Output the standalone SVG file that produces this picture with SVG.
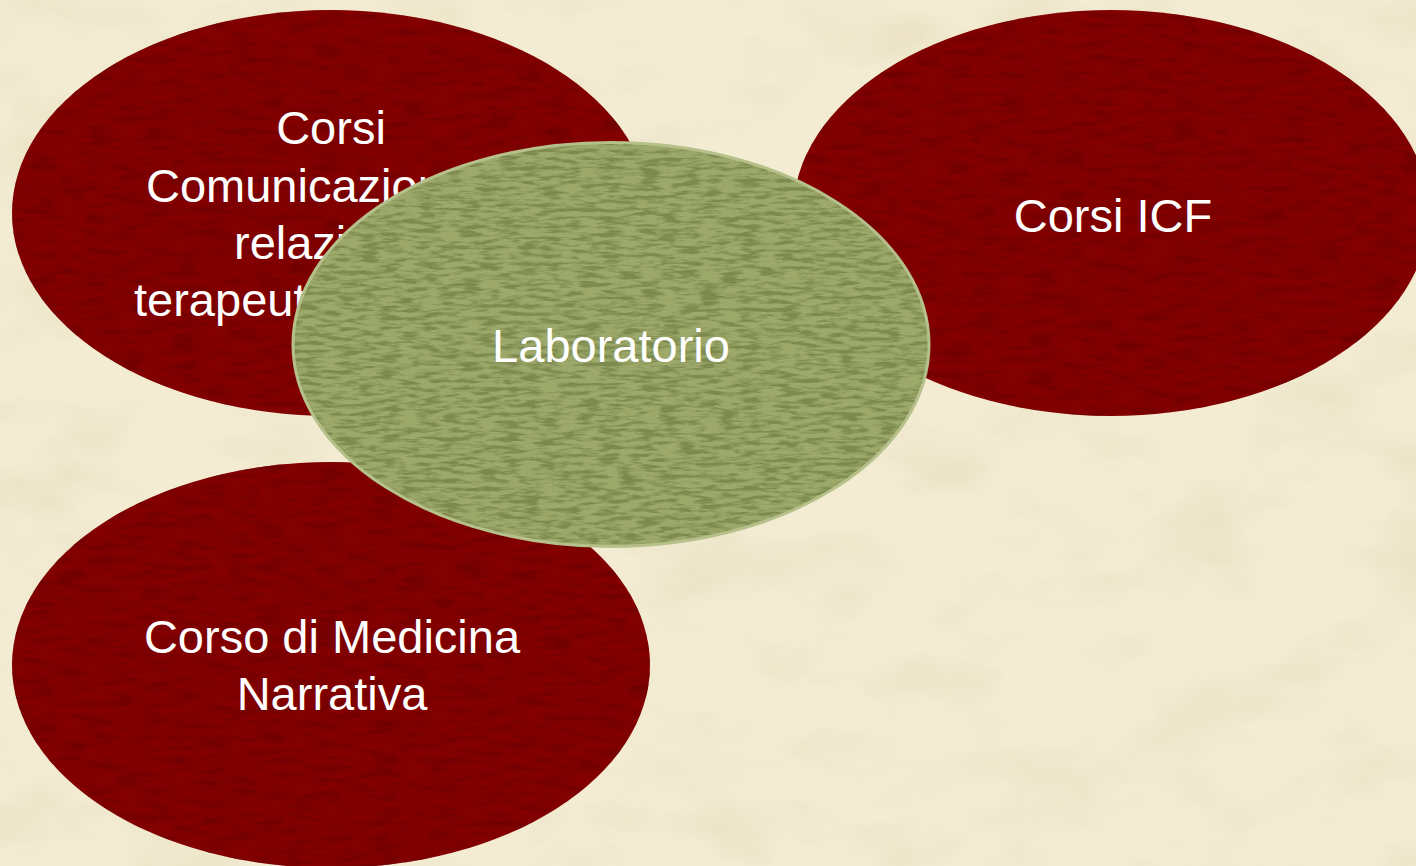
<svg xmlns="http://www.w3.org/2000/svg" width="1416" height="866" viewBox="0 0 1416 866">
  <defs>
    <filter id="bgTex" x="0" y="0" width="1416" height="866" filterUnits="userSpaceOnUse" color-interpolation-filters="sRGB">
      <feTurbulence type="fractalNoise" baseFrequency="0.008 0.015" numOctaves="4" seed="7" result="n"/>
      <feColorMatrix in="n" type="matrix" values="0 0 0 0 0.88  0 0 0 0 0.83  0 0 0 0 0.68  0.9 0 0 0 -0.42" result="m"/>
      <feComposite in="m" in2="SourceAlpha" operator="in" result="m2"/>
      <feMerge><feMergeNode in="SourceGraphic"/><feMergeNode in="m2"/></feMerge>
    </filter>
    <filter id="redTex" x="-2%" y="-2%" width="104%" height="104%" color-interpolation-filters="sRGB">
      <feTurbulence type="fractalNoise" baseFrequency="0.035 0.14" numOctaves="3" seed="4" result="n"/>
      <feColorMatrix in="n" type="matrix" values="0 0 0 0 0.44  0 0 0 0 0  0 0 0 0 0  2.6 0 0 0 -1.1" result="m"/>
      <feComposite in="m" in2="SourceAlpha" operator="in" result="m2"/>
      <feMerge><feMergeNode in="SourceGraphic"/><feMergeNode in="m2"/></feMerge>
    </filter>
    <filter id="greenTex" x="-2%" y="-2%" width="104%" height="104%" color-interpolation-filters="sRGB">
      <feTurbulence type="fractalNoise" baseFrequency="0.05 0.24" numOctaves="3" seed="11" result="n"/>
      <feColorMatrix in="n" type="matrix" values="0 0 0 0 0.49  0 0 0 0 0.54  0 0 0 0 0.31  4 0 0 0 -1.7" result="m"/>
      <feComposite in="m" in2="SourceAlpha" operator="in" result="m2"/>
      <feMerge><feMergeNode in="SourceGraphic"/><feMergeNode in="m2"/></feMerge>
    </filter>
  </defs>
  <style>
    .red { fill: #830000; filter: url(#redTex); }
    .green { fill: #9da96a; filter: url(#greenTex); }
    .greenEdge { fill: none; stroke: #b6c08a; stroke-width: 3; }
    .lbl { font-family: "Liberation Sans", Arial, sans-serif; font-size: 47px; fill: #ffffff; }
    .mid { text-anchor: middle; }
  </style>
  <rect x="0" y="0" width="1416" height="866" fill="#f3ecd3" filter="url(#bgTex)"/>
  <g id="connectors"/>
  <g id="node-comunicazione">
    <ellipse class="red" cx="331" cy="213" rx="319" ry="203"/>
    <text class="lbl mid" x="331" y="144">Corsi</text>
    <text class="lbl" x="146" y="202">Comunicazione</text>
    <text class="lbl" x="234" y="259">relazione</text>
    <text class="lbl" x="134" y="316">terapeutica</text>
  </g>
  <g id="node-icf">
    <ellipse class="red" cx="1111" cy="213" rx="318" ry="203"/>
    <text class="lbl mid" x="1113" y="232">Corsi ICF</text>
  </g>
  <g id="node-narrativa">
    <ellipse class="red" cx="331" cy="665" rx="319" ry="203"/>
    <text class="lbl mid" x="332" y="653">Corso di Medicina</text>
    <text class="lbl mid" x="332" y="710">Narrativa</text>
  </g>
  <g id="node-laboratorio">
    <ellipse class="green" cx="611" cy="344.5" rx="318" ry="202"/>
    <ellipse class="greenEdge" cx="611" cy="344.5" rx="318" ry="202"/>
    <text class="lbl mid" x="611" y="362">Laboratorio</text>
  </g>
</svg>
